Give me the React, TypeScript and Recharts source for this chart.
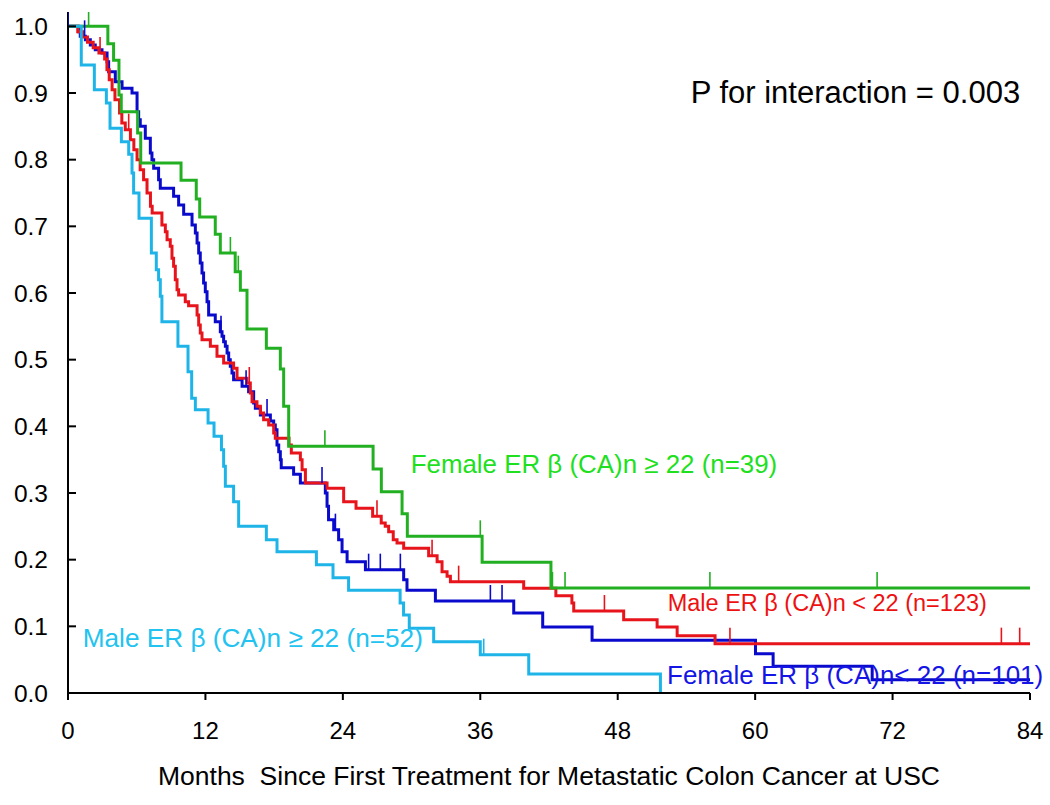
import React from "react";
import { ComposedChart, Line, Scatter, XAxis, YAxis } from "recharts";

// Kaplan-Meier step points: [month, survival]
const femaleHighSteps: [number, number][] = [
  [0, 1], [3.48, 0.974], [3.98, 0.949], [4.45, 0.897], [4.65, 0.872], [6.08, 0.84], [6.35, 0.795],
  [9.87, 0.769], [11.2, 0.741], [11.5, 0.714], [12.86, 0.688], [13.3, 0.66], [14.6, 0.632],
  [15.05, 0.604], [15.63, 0.546], [17.32, 0.517], [18.54, 0.486], [18.83, 0.43], [19.27, 0.37],
  [26.64, 0.336], [27.36, 0.302], [29.17, 0.269], [29.63, 0.235], [36.16, 0.196], [42.17, 0.1575],
  [84, 0.1575],
];
const femaleHighCensor = [1.8, 14.18, 14.87, 22.43, 36.0, 42.3, 43.4, 56.05, 70.65];

const maleLowSteps: [number, number][] = [
  [0, 1], [0.85, 0.992], [1.35, 0.984], [1.7, 0.976], [2.2, 0.968], [2.7, 0.96], [3.2, 0.951],
  [3.4, 0.935], [3.6, 0.92], [3.85, 0.905], [4.1, 0.89], [4.5, 0.87], [4.7, 0.855], [5.0, 0.845],
  [5.45, 0.83], [5.75, 0.815], [6.03, 0.8], [6.3, 0.785], [6.6, 0.77], [6.9, 0.75], [7.2, 0.73],
  [7.35, 0.72], [8.2, 0.702], [8.5, 0.692], [8.65, 0.68], [8.93, 0.67], [9.08, 0.652], [9.22, 0.64],
  [9.37, 0.62], [9.52, 0.605], [9.66, 0.597], [10.24, 0.587], [10.53, 0.581], [11.27, 0.567],
  [11.41, 0.552], [11.55, 0.54], [11.7, 0.53], [12.43, 0.52], [13.01, 0.505], [13.59, 0.495],
  [14.46, 0.487], [14.76, 0.472], [15.63, 0.465], [15.92, 0.45], [16.07, 0.437], [16.5, 0.43],
  [16.8, 0.42], [17.08, 0.41], [17.52, 0.402], [17.96, 0.39], [18.1, 0.382], [19.3, 0.372],
  [19.5, 0.36], [20.29, 0.35], [20.44, 0.335], [20.73, 0.315], [22.62, 0.307], [24.07, 0.287],
  [25.15, 0.277], [26.6, 0.265], [27.35, 0.255], [27.7, 0.25], [28.0, 0.242], [28.4, 0.23],
  [28.73, 0.225], [29.31, 0.217], [31.49, 0.206], [32.23, 0.197], [32.66, 0.182], [33.1, 0.175],
  [33.39, 0.167], [39.79, 0.157], [42.6, 0.146], [44.0, 0.135], [44.16, 0.123], [48.52, 0.11],
  [51.44, 0.099], [53.19, 0.086], [56.5, 0.074], [84, 0.074],
];
const maleLowCensor = [2.8, 5.3, 15.83, 26.98, 31.79, 34.11, 46.84, 57.8, 81.5, 83.1];

const femaleLowSteps: [number, number][] = [
  [0, 1], [0.93, 0.992], [1.07, 0.985], [1.52, 0.98], [1.95, 0.972], [2.38, 0.965], [2.97, 0.96],
  [3.41, 0.947], [3.55, 0.932], [4.13, 0.917], [4.72, 0.907], [5.59, 0.9], [6.03, 0.872],
  [6.17, 0.86], [6.31, 0.85], [6.75, 0.832], [7.19, 0.81], [7.33, 0.8], [7.48, 0.787], [7.91, 0.77],
  [8.06, 0.757], [9.22, 0.745], [9.66, 0.732], [10.1, 0.718], [10.83, 0.702], [11.12, 0.69],
  [11.27, 0.675], [11.41, 0.66], [11.55, 0.645], [11.7, 0.63], [11.84, 0.615], [11.99, 0.602],
  [12.14, 0.587], [12.28, 0.567], [12.86, 0.557], [13.3, 0.542], [13.45, 0.535], [13.59, 0.527],
  [13.74, 0.52], [13.89, 0.51], [14.03, 0.5], [14.17, 0.49], [14.32, 0.48], [14.46, 0.47],
  [15.2, 0.46], [15.77, 0.452], [16.21, 0.435], [16.36, 0.427], [16.8, 0.417], [17.67, 0.408],
  [17.96, 0.402], [18.1, 0.395], [18.25, 0.372], [18.4, 0.362], [18.54, 0.35], [18.62, 0.338],
  [19.7, 0.328], [20.29, 0.315], [22.47, 0.3], [22.62, 0.28], [22.75, 0.26], [23.2, 0.245],
  [23.63, 0.23], [23.93, 0.212], [24.37, 0.197], [25.97, 0.185], [29.31, 0.17], [29.6, 0.154],
  [32.08, 0.138], [38.92, 0.12], [41.45, 0.099], [45.76, 0.079], [60.03, 0.059], [61.57, 0.04],
  [70.22, 0.02], [84, 0.02],
];
const femaleLowCensor = [0, 1.45, 13.36, 15.55, 17.38, 22.18, 23.35, 26.25, 27.27, 29.02, 36.88, 37.9];

const maleHighSteps: [number, number][] = [
  [0, 1], [1.16, 0.942], [2.3, 0.905], [3.35, 0.885], [3.67, 0.847], [4.66, 0.827], [5.3, 0.808],
  [5.59, 0.78], [5.73, 0.75], [6.2, 0.712], [7.28, 0.66], [7.71, 0.635], [7.91, 0.62],
  [8.06, 0.595], [8.2, 0.557], [9.6, 0.52], [10.48, 0.482], [10.8, 0.442], [11.12, 0.425],
  [12.23, 0.405], [12.75, 0.385], [13.4, 0.365], [13.59, 0.34], [13.74, 0.31], [14.46, 0.287],
  [14.9, 0.25], [17.32, 0.23], [18.25, 0.212], [21.69, 0.1925], [23.14, 0.173], [24.5, 0.154],
  [29.0, 0.135], [29.3, 0.117], [29.8, 0.097], [31.93, 0.077], [36.0, 0.0575], [40.23, 0.0285],
  [51.73, 0],
];
const maleHighCensor = [36.3];

const xTicks = [0, 12, 24, 36, 48, 60, 72, 84];
const yTicks = [0, 0.1, 0.2, 0.3, 0.4, 0.5, 0.6, 0.7, 0.8, 0.9, 1.0];

const FONT = "'Liberation Sans', Arial, sans-serif";

const toRows = (steps: [number, number][]) => steps.map(([t, s]) => ({ t, s }));
const stepAt = (steps: [number, number][], t: number) => {
  let v = steps[0][1];
  for (const [tt, s] of steps) if (tt <= t) v = s;
  return v;
};
const censorRows = (times: number[], steps: [number, number][]) =>
  times.map((t) => ({ t, s: stepAt(steps, t) }));

const tickShape = (color: string) => (p: any) => (
  <line x1={p.cx} x2={p.cx} y1={p.cy} y2={p.cy - 16} stroke={color} strokeWidth={1.6} />
);

const YTick = (props: any) => {
  const { x, y, payload } = props;
  return (
    <g>
      <line x1={x + 20} x2={x + 28} y1={y} y2={y} stroke="#000" strokeWidth={2} />
      <text x={x} y={y} dy={8.6} textAnchor="end" fontSize={24.5} fontFamily={FONT} fill="#000">
        {Number(payload.value).toFixed(1)}
      </text>
    </g>
  );
};

const C_GREEN = "#22b022";
const C_RED = "#e8141b";
const C_BLUE = "#0a0acd";
const C_CYAN = "#1eb4e8";

export default function App() {
  return (
    <div style={{ position: "absolute", left: 0, top: 0, width: 1050, height: 805, background: "#fff" }}>
      <ComposedChart
        width={1050}
        height={805}
        margin={{ top: 12, right: 20, left: 0, bottom: 0 }}
      >
        <XAxis
          type="number"
          dataKey="t"
          domain={[0, 84]}
          ticks={xTicks}
          allowDataOverflow
          height={112}
          tickSize={7}
          tickMargin={22}
          axisLine={{ stroke: "#000", strokeWidth: 2 }}
          tickLine={{ stroke: "#000", strokeWidth: 2 }}
          tick={{ fontSize: 24, fill: "#000", fontFamily: FONT }}
          label={{
            value: "Months\u00A0\u00A0Since First Treatment for Metastatic Colon Cancer at USC",
            position: "insideBottom",
            offset: 20,
            fontSize: 26.5,
            fill: "#000",
            fontFamily: FONT,
          }}
        />
        <YAxis
          type="number"
          domain={[0, 1.0215]}
          ticks={yTicks}
          allowDataOverflow
          width={68}
          tickSize={0}
          tickMargin={20}
          axisLine={{ stroke: "#000", strokeWidth: 2 }}
          tickLine={false}
          tick={<YTick />}
        />
        <Line data={toRows(femaleLowSteps)} dataKey="s" type="stepAfter" stroke={C_BLUE} strokeWidth={3} dot={false} activeDot={false} isAnimationActive={false} />
        <Line data={toRows(maleLowSteps)} dataKey="s" type="stepAfter" stroke={C_RED} strokeWidth={3} dot={false} activeDot={false} isAnimationActive={false} />
        <Line data={toRows(femaleHighSteps)} dataKey="s" type="stepAfter" stroke={C_GREEN} strokeWidth={3} dot={false} activeDot={false} isAnimationActive={false} />
        <Line data={toRows(maleHighSteps)} dataKey="s" type="stepAfter" stroke={C_CYAN} strokeWidth={3} dot={false} activeDot={false} isAnimationActive={false} />
        <Scatter data={censorRows(femaleLowCensor, femaleLowSteps)} dataKey="s" shape={tickShape(C_BLUE)} isAnimationActive={false} />
        <Scatter data={censorRows(maleLowCensor, maleLowSteps)} dataKey="s" shape={tickShape(C_RED)} isAnimationActive={false} />
        <Scatter data={censorRows(femaleHighCensor, femaleHighSteps)} dataKey="s" shape={tickShape(C_GREEN)} isAnimationActive={false} />
        <Scatter data={censorRows(maleHighCensor, maleHighSteps)} dataKey="s" shape={tickShape(C_CYAN)} isAnimationActive={false} />
      </ComposedChart>
      <svg width={1050} height={805} style={{ position: "absolute", left: 0, top: 0, pointerEvents: "none" }}>
        <text x={690.7} y={103.3} fontSize={31} fontFamily={FONT} fill="#000">P for interaction = 0.003</text>
        <text x={410.7} y={473.3} fontSize={25.9} fontFamily={FONT} fill="#1ee01e">Female ER β (CA)n ≥ 22 (n=39)</text>
        <text x={667.7} y={611} fontSize={23.5} fontFamily={FONT} fill="#ee1111">Male ER β (CA)n &lt; 22 (n=123)</text>
        <text x={667} y={684} fontSize={26} fontFamily={FONT} fill="#1515e6">Female ER β (CA)n&lt; 22 (n=101)</text>
        <text x={82.7} y={646.7} fontSize={26.2} fontFamily={FONT} fill="#22c3f0">Male ER β (CA)n ≥ 22 (n=52)</text>
      </svg>
    </div>
  );
}
